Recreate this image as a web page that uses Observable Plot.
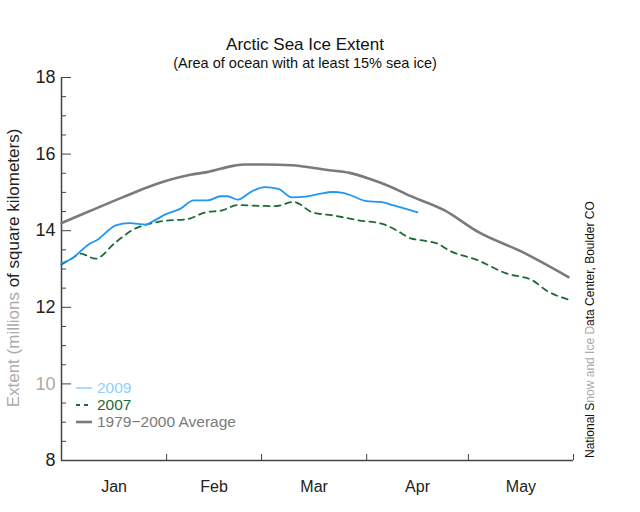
<!DOCTYPE html>
<html>
<head>
<meta charset="utf-8">
<script src="https://cdn.jsdelivr.net/npm/d3@7"></script>
<script src="https://cdn.jsdelivr.net/npm/@observablehq/plot@0.6"></script>
<style>
  html, body { margin: 0; padding: 0; background: white; }
  #wrap { position: relative; width: 640px; height: 512px; font-family: "Liberation Sans", Arial, sans-serif; }
  #wrap svg { position: absolute; left: 0; top: 0; }
  .abs { position: absolute; white-space: nowrap; }
</style>
</head>
<body>
<div id="wrap"></div>
<script>
// ---- data (day of year, starting Jan 1 = 0) ----
const monthNames = ["Jan", "Feb", "Mar", "Apr", "May"];
const monthStarts = [0, 31, 59, 90, 120, 151];
const yMajor = [8, 10, 12, 14, 16, 18];

const avgDays = [0, 8, 18, 28, 38, 43, 51, 54, 60, 68, 78, 85, 91, 98.5, 101.5, 113, 123, 136, 149.5];
const avgVals = [14.20, 14.50, 14.87, 15.22, 15.46, 15.53, 15.70, 15.73, 15.73, 15.71, 15.59, 15.51, 15.35, 15.09, 14.96, 14.53, 13.96, 13.44, 12.79];

const y2009Days = [0, 3, 8, 10.5, 16, 20, 25, 26, 31, 35, 39, 43, 47, 49, 52, 56, 60, 64, 68, 72, 76, 80, 83, 86, 90, 94, 98, 101.5, 105];
const y2009Vals = [13.15, 13.27, 13.64, 13.76, 14.14, 14.20, 14.16, 14.20, 14.44, 14.57, 14.79, 14.79, 14.90, 14.90, 14.81, 15.02, 15.14, 15.09, 14.87, 14.89, 14.96, 15.01, 14.99, 14.90, 14.77, 14.75, 14.66, 14.57, 14.48];

const y2007Days = [0, 3, 5.6, 10, 16, 21, 27, 31.7, 36.6, 42.5, 47.4, 52, 58, 63, 68.5, 74, 80, 87.7, 94.6, 99, 103, 107, 111, 114, 123, 131, 139, 143, 149.6];
const y2007Vals = [13.12, 13.27, 13.40, 13.27, 13.70, 14.02, 14.20, 14.27, 14.29, 14.48, 14.53, 14.67, 14.65, 14.64, 14.75, 14.48, 14.40, 14.27, 14.18, 14.00, 13.80, 13.74, 13.66, 13.50, 13.22, 12.89, 12.70, 12.44, 12.20];

// ---- derived tables ----
const toRows = (days, vals) => days.map((d, i) => ({day: d, value: vals[i]}));
const avg = toRows(avgDays, avgVals);
const s2009 = toRows(y2009Days, y2009Vals);
const s2007 = toRows(y2007Days, y2007Vals);
const monthMids = monthStarts.slice(0, -1).map((d, i) => (d + monthStarts[i + 1]) / 2);
const yMinor = d3.range(8, 18.001, 0.5).filter(v => !yMajor.includes(v));

const axisColor = "#444";

const chart = Plot.plot({
  width: 640,
  height: 512,
  marginLeft: 61,
  marginRight: 67,
  marginTop: 77,
  marginBottom: 52,
  style: {fontFamily: "'Liberation Sans', Arial, sans-serif", background: "white", color: "#222"},
  x: {domain: [0, 151]},
  y: {domain: [8, 18]},
  marks: [
    Plot.axisY({ticks: yMinor, tickSize: -5, tickFormat: () => "", stroke: axisColor, label: null}),
    Plot.axisY({ticks: yMajor, tickSize: -10, tickPadding: 16, fontSize: 18, stroke: axisColor, fill: "#222", label: null}),
    Plot.axisX({ticks: monthStarts, tickSize: -6, tickFormat: () => "", stroke: axisColor, label: null}),
    Plot.axisX({ticks: monthMids, tickSize: 0, tickPadding: 20, fontSize: 16, fill: "#222", tickFormat: (d, i) => monthNames[i], label: null}),
    Plot.ruleX([0], {stroke: axisColor, strokeWidth: 1.5}),
    Plot.ruleY([8], {stroke: axisColor, strokeWidth: 1.5}),
    Plot.line(avg, {x: "day", y: "value", stroke: "#7a7a7a", strokeWidth: 2.6, curve: "monotone-x"}),
    Plot.line(s2007, {x: "day", y: "value", stroke: "#1d6a37", strokeWidth: 1.8, strokeDasharray: "6,5", curve: "monotone-x"}),
    Plot.line(s2009, {x: "day", y: "value", stroke: "#2196f3", strokeWidth: 1.8, curve: "monotone-x"})
  ]
});

const wrap = document.getElementById("wrap");
wrap.appendChild(chart);

// grey out the "10" tick label as in the reference
d3.select(chart).selectAll("text").filter(function() { return this.textContent === "10"; }).attr("fill", "#aaa");

function addDiv(html, css) {
  const d = document.createElement("div");
  d.className = "abs";
  d.innerHTML = html;
  Object.assign(d.style, css);
  wrap.appendChild(d);
  return d;
}

// titles
addDiv("Arctic Sea Ice Extent", {left: "0px", width: "610px", top: "37px", height: "16px", lineHeight: "16px", textAlign: "center", fontSize: "17px", color: "#111"});
addDiv("(Area of ocean with at least 15% sea ice)", {left: "0px", width: "610px", top: "56px", height: "15px", lineHeight: "15px", textAlign: "center", fontSize: "14.5px", color: "#111"});

// y label
addDiv('<span style="color:#aaa">Extent (millions</span> of square kilometers)', {
  left: (14 - 200) + "px", top: (268 - 10) + "px", width: "400px", height: "20px", lineHeight: "20px",
  textAlign: "center", fontSize: "17px", color: "#222", transform: "rotate(-90deg)", transformOrigin: "50% 50%"
});

// credit
addDiv('National S<span style="color:#aaa">now and Ice D</span>ata Center, Boulder CO', {
  left: (590 - 150) + "px", top: (308 - 8) + "px", width: "300px", height: "16px", lineHeight: "16px",
  textAlign: "left", fontSize: "12px", color: "#111", transform: "rotate(-90deg)", transformOrigin: "50% 50%"
});

// legend
const legendItems = [
  {label: "2009", color: "#8fd0ff", text: "#8fd0ff", dash: null, w: 1.5},
  {label: "2007", color: "#1d6a37", text: "#1d6a37", dash: "4,4", w: 1.8},
  {label: "1979\u22122000 Average", color: "#7a7a7a", text: "#7a7a7a", dash: null, w: 2.6}
];
legendItems.forEach((it, i) => {
  const cy = 388 + i * 17;
  addDiv(`<svg width="18" height="6" style="vertical-align:middle"><line x1="0" x2="16" y1="3" y2="3" stroke="${it.color}" stroke-width="${it.w}" ${it.dash ? `stroke-dasharray="${it.dash}"` : ""}/></svg>`,
    {left: "76px", top: (cy - 3) + "px", height: "6px", lineHeight: "6px"});
  addDiv(it.label, {left: "97px", top: (cy - 8) + "px", height: "16px", lineHeight: "16px", fontSize: "15.5px", color: it.text});
});
</script>
</body>
</html>
